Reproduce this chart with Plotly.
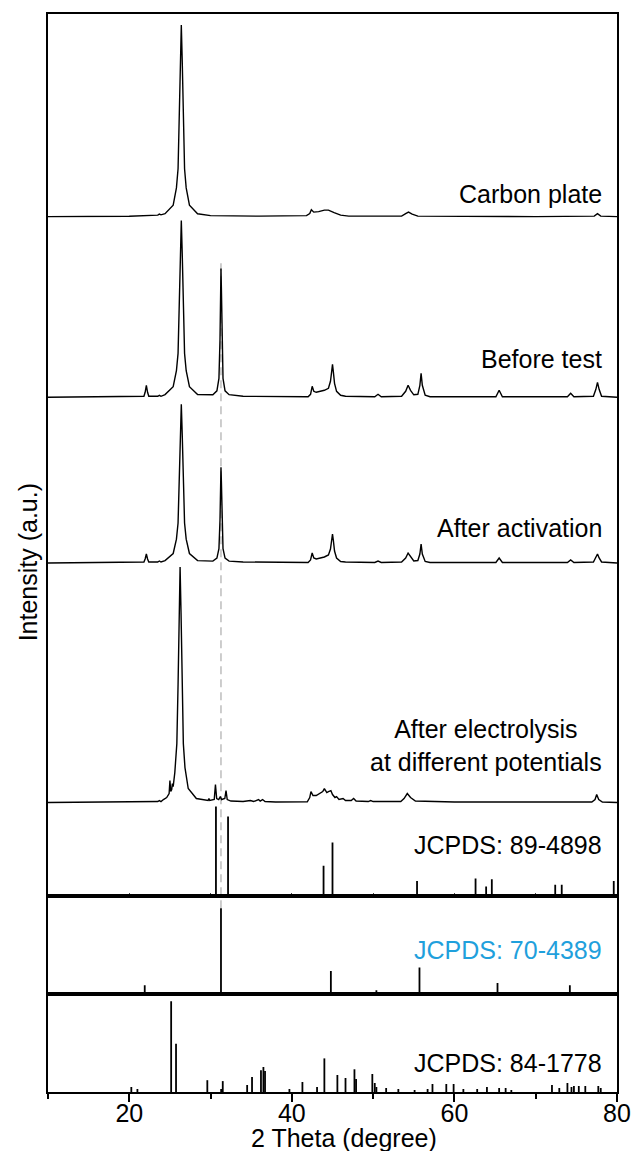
import plotly.graph_objects as go
from plotly.subplots import make_subplots

# ---------------- measured XRD patterns (2theta, intensity a.u.) ----------------
CARBON_PLATE = [
    (10, 0), (20, 0.3), (23.5, 1.5), (23.7, 2.5), (23.9, 1.8), (24.4, 2.9), (25.4, 11.5),
    (25.8, 28.8), (26.0, 48), (26.15, 96), (26.28, 154), (26.4, 192), (26.52, 154),
    (26.65, 96), (26.8, 48), (27.0, 28.8), (27.4, 11.5), (28.4, 2.9), (30, 1),
    (36, 0.5), (41.8, 1), (42.2, 3), (42.4, 7), (42.7, 4.5), (43.3, 5), (44.0, 6.5),
    (44.5, 6.5), (45.2, 4), (46.0, 1.5), (47, 0.5), (53.5, 0.5), (54.0, 3), (54.35, 4.5),
    (54.8, 2.5), (55.5, 0.5), (70, 0), (77.2, 0.5), (77.6, 3), (78.0, 0.5), (80, 0),
]

BEFORE_TEST = [
    (10, 0), (20, 0.5), (21.8, 1), (21.95, 5), (22.1, 12), (22.25, 5), (22.4, 1),
    (23.5, 1), (23.7, 2), (23.9, 1), (24.4, 2.7), (25.4, 10.6), (25.8, 26.6), (26.0, 44),
    (26.15, 88.5), (26.28, 142), (26.4, 177), (26.52, 142), (26.65, 88.5), (26.8, 44),
    (27.0, 26.6), (27.4, 10.6), (28.4, 2.7), (30.28, 2.6), (30.78, 6.5), (31.03, 19),
    (31.16, 58), (31.23, 110), (31.28, 129), (31.33, 110), (31.40, 58), (31.53, 19),
    (31.78, 6.5), (32.28, 2.6), (34, 1), (40, 0.5), (42.0, 0.5), (42.3, 3), (42.5, 11),
    (42.7, 6), (43.0, 5), (43.5, 6), (44.0, 7), (44.5, 9), (44.75, 16), (44.9, 26),
    (45.0, 33), (45.1, 26), (45.25, 14), (45.5, 6), (46.0, 2), (46.6, 1), (50.2, 0.5),
    (50.6, 3), (51.0, 0.5), (53.5, 1), (54.0, 6), (54.3, 12), (54.6, 7), (55.0, 2.5),
    (55.5, 3), (55.75, 12), (55.9, 24), (56.05, 12), (56.4, 2), (57.0, 0.5), (65.1, 0.5),
    (65.5, 7), (65.9, 0.5), (73.9, 0.5), (74.3, 4), (74.7, 0.5), (77.1, 1), (77.4, 8),
    (77.6, 15), (77.8, 8), (78.1, 1), (80, 0),
]

AFTER_ACTIVATION = [
    (10, 0), (20, 0.5), (21.8, 1), (21.95, 4), (22.1, 9), (22.25, 4), (22.4, 1),
    (23.5, 1), (23.7, 2), (23.9, 1), (24.4, 2.4), (25.4, 9.5), (25.8, 23.9), (26.0, 40),
    (26.15, 79.5), (26.28, 127), (26.4, 159), (26.52, 127), (26.65, 79.5), (26.8, 40),
    (27.0, 23.9), (27.4, 9.5), (28.4, 2.4), (30.28, 1.9), (30.78, 4.8), (31.03, 14.4),
    (31.16, 43), (31.23, 82), (31.28, 96), (31.33, 82), (31.40, 43), (31.53, 14.4),
    (31.78, 4.8), (32.28, 1.9), (34, 1), (40, 0.5), (42.0, 0.5), (42.3, 3), (42.5, 10),
    (42.7, 5), (43.0, 4), (43.5, 5), (44.0, 6), (44.5, 8), (44.75, 14), (44.9, 23),
    (45.0, 29), (45.1, 23), (45.25, 12), (45.5, 5), (46.0, 1.5), (46.6, 1), (50.2, 0.5),
    (50.6, 2), (51.0, 0.5), (53.5, 1), (54.0, 5), (54.3, 10), (54.6, 6), (55.0, 2),
    (55.5, 2.5), (55.75, 9), (55.9, 19), (56.05, 9), (56.4, 1.5), (57.0, 0.5), (65.1, 0.5),
    (65.5, 5), (65.9, 0.5), (73.9, 0.5), (74.3, 3), (74.7, 0.5), (77.1, 1), (77.4, 5),
    (77.6, 9), (77.8, 5), (78.1, 1), (80, 0),
]

AFTER_ELECTROLYSIS = [
    (10, 0), (22, 0.5), (23.5, 1), (23.7, 2), (23.9, 1), (24.2, 3), (24.6, 5), (24.9, 9),
    (25.0, 22), (25.1, 11), (25.22, 13), (25.3, 19), (25.4, 16), (25.6, 30), (25.85, 59),
    (26.0, 118), (26.13, 189), (26.25, 236), (26.37, 189), (26.5, 118), (26.65, 59),
    (26.85, 35), (27.25, 14), (28.25, 4), (29.5, 2), (29.7, 2), (29.8, 4), (29.9, 2),
    (30.45, 3), (30.6, 18), (30.75, 4), (31.0, 3), (31.2, 6), (31.35, 3), (31.75, 4),
    (31.9, 12), (32.05, 3), (32.5, 1.5), (34.0, 1), (34.9, 2), (35.3, 1), (35.9, 3),
    (36.1, 1.5), (36.4, 3), (36.7, 1), (38, 0.5), (41.9, 0.8), (42.2, 5), (42.35, 11),
    (42.6, 7), (43.0, 7), (43.5, 9), (43.8, 11), (44.0, 14), (44.3, 10), (44.5, 11),
    (44.8, 12), (45.0, 8), (45.3, 5), (45.5, 6), (45.8, 3), (46.3, 4), (46.6, 2),
    (47.3, 2), (47.6, 4), (47.9, 1.5), (49.4, 1), (49.7, 2), (50, 1), (53.4, 1),
    (53.8, 4), (54.2, 9), (54.6, 5), (55.2, 1.5), (57, 1), (60, 0.5), (76.9, 0.5),
    (77.3, 3), (77.5, 8), (77.75, 3), (78.2, 0.5), (80, 0),
]

# ---------------- reference cards (2theta, relative intensity %) ----------------
JCPDS_89_4898 = [
    (20.0, 1), (30.1, 2), (30.66, 100), (32.15, 89), (40.0, 1), (43.9, 34), (45.0, 60),
    (50.1, 1), (55.4, 17), (60.0, 1), (62.6, 20), (63.9, 11), (64.6, 19), (70.1, 1),
    (72.4, 13), (73.2, 13), (79.6, 17),
]

JCPDS_70_4389 = [
    (18.9, 1.5), (21.9, 10.5), (24.6, 1.5), (31.28, 100), (33.3, 1.5), (35.0, 1.5),
    (36.7, 1.5), (40.2, 1.5), (41.9, 1.5), (44.8, 27), (46.1, 1.5), (49.1, 1.5),
    (50.4, 4.5), (51.8, 1.5), (55.7, 31), (58.0, 1.5), (59.5, 1.5), (61.5, 1.5),
    (63.0, 1.5), (65.3, 13), (67.0, 1.5), (69.0, 1.5), (71.0, 1.5), (72.5, 1.5),
    (74.2, 10.5), (76.0, 1.5), (77.5, 1.5), (79.0, 1.5),
]

JCPDS_84_1778 = [
    (20.25, 5.5), (21.0, 3.3), (25.15, 100), (25.75, 53), (29.6, 13), (31.3, 3.3),
    (31.5, 12), (34.5, 7.7), (35.1, 16.5), (36.2, 24), (36.5, 27.5), (36.7, 23),
    (39.7, 3.3), (41.3, 11), (43.1, 5.5), (44.0, 37), (45.6, 18.7), (46.6, 15.4),
    (47.7, 25), (47.9, 14.3), (49.9, 19.8), (50.2, 9.9), (50.4, 5.5), (51.6, 4.4),
    (53.1, 3.3), (55.1, 2.2), (56.7, 3.3), (57.3, 8.8), (59.0, 8.8), (59.9, 8.8),
    (61.1, 3.3), (62.8, 3.3), (64.0, 5.5), (65.5, 4.4), (66.3, 4.4), (67.0, 2.2),
    (72.0, 7.7), (72.9, 4.4), (73.9, 9.9), (74.4, 5.5), (74.7, 6.6), (75.3, 6.6),
    (76.1, 6.6), (77.7, 6.6), (78.0, 4.4),
]

X_TICKS = [20, 40, 60, 80]

# ---------------- figure geometry ----------------
W, H = 643, 1151
M_L, M_R, M_T, M_B = 48, 15, 12, 59
PLOT_H = H - M_T - M_B
TOP_H, MID_H, BOT_H = 884, 98, 98

# vertical offsets of the stacked patterns in the top panel
OFFSETS = {"carbon": 681, "before": 500, "after": 334, "electro": 94}
CARD1_SCALE = 0.90           # 89-4898 drawn in the top panel
MID_RANGE = 100 * MID_H / 86
BOT_RANGE = 100 * BOT_H / 91

FONT = "Liberation Sans, Arial, Helvetica, sans-serif"
FS = 25
BLUE = "#1FA0DC"


def split(pairs, offset=0.0, scale=1.0):
    xs = [p[0] for p in pairs]
    ys = [p[1] * scale + offset for p in pairs]
    return xs, ys


def sticks(pairs, scale=1.0):
    xs, ys = [], []
    for x, h in pairs:
        xs += [x, x, None]
        ys += [0, h * scale, None]
    return xs, ys


def py(px):
    """paper y from a pixel row"""
    return (H - M_B - px) / PLOT_H


def pxx(px):
    """paper x from a pixel column"""
    return (px - M_L) / (W - M_L - M_R)


fig = make_subplots(rows=3, cols=1, shared_xaxes=True, vertical_spacing=0,
                    row_heights=[TOP_H, MID_H, BOT_H])

line = dict(color="black", width=1.4)
for key, data in [("carbon", CARBON_PLATE), ("before", BEFORE_TEST),
                  ("after", AFTER_ACTIVATION), ("electro", AFTER_ELECTROLYSIS)]:
    x, y = split(data, offset=OFFSETS[key])
    fig.add_trace(go.Scatter(x=x, y=y, mode="lines", line=line, hoverinfo="skip"),
                  row=1, col=1)

stick_line = dict(color="black", width=1.8)
x, y = sticks(JCPDS_89_4898, CARD1_SCALE)
fig.add_trace(go.Scatter(x=x, y=y, mode="lines", line=stick_line), row=1, col=1)
x, y = sticks(JCPDS_70_4389)
fig.add_trace(go.Scatter(x=x, y=y, mode="lines", line=stick_line), row=2, col=1)
x, y = sticks(JCPDS_84_1778)
fig.add_trace(go.Scatter(x=x, y=y, mode="lines", line=stick_line), row=3, col=1)

# dashed guide through the 31.3 degree reflection
fig.add_shape(type="line", xref="x", yref="paper", x0=31.28, x1=31.28,
              y0=py(908), y1=py(258), layer="below",
              line=dict(color="#BDBDBD", width=1.5, dash="8px,5px"))

axis_common = dict(range=[10, 80], showline=True, mirror=True, linecolor="black",
                   linewidth=2, showgrid=False, zeroline=False)
fig.update_xaxes(**axis_common)
fig.update_xaxes(ticks="inside", ticklen=3, tickwidth=1, tick0=0, dtick=10,
                 showticklabels=False, row=1, col=1)
fig.update_xaxes(ticks="", showticklabels=False, row=2, col=1)
fig.update_xaxes(ticks="outside", ticklen=8, tickwidth=1.6, tickcolor="black",
                 tickvals=X_TICKS, ticktext=[str(v) for v in X_TICKS],
                 ticklabelstandoff=-10,
                 showticklabels=True, tickfont=dict(family=FONT, size=FS, color="black"),
                 minor=dict(tickvals=[10, 30, 50, 70], ticks="outside", ticklen=5,
                            tickwidth=1.6, tickcolor="black"),
                 row=3, col=1)

yaxis_common = dict(showline=True, mirror=True, linecolor="black", linewidth=2,
                    showgrid=False, zeroline=False, ticks="", showticklabels=False)
fig.update_yaxes(**yaxis_common)
fig.update_yaxes(range=[0, TOP_H], row=1, col=1)
fig.update_yaxes(range=[0, MID_RANGE], row=2, col=1)
fig.update_yaxes(range=[0, BOT_RANGE], row=3, col=1)

txt = dict(family=FONT, size=FS, color="black")
labels = [
    ("Carbon plate", 192, "black"),
    ("Before test", 358, "black"),
    ("After activation", 527, "black"),
    ("After electrolysis<br>at different potentials", 745, "black"),
    ("JCPDS: 89-4898", 845, "black"),
    ("JCPDS: 70-4389", 950, BLUE),
    ("JCPDS: 84-1778", 1063, "black"),
]
for text, ypx, color in labels:
    fig.add_annotation(text=text, xref="paper", yref="paper", x=pxx(615), y=py(ypx),
                       xanchor="right", yanchor="middle", align="center",
                       showarrow=False, font=dict(family=FONT, size=FS, color=color))

fig.add_annotation(text="2 Theta (degree)", xref="paper", yref="paper",
                   x=pxx(350), y=py(1138), xanchor="center", yanchor="middle",
                   showarrow=False, font=txt)
fig.add_annotation(text="Intensity (a.u.)", xref="paper", yref="paper",
                   x=pxx(28), y=py(561), xanchor="center", yanchor="middle",
                   textangle=-90, showarrow=False, font=txt)

fig.update_layout(width=W, height=H, showlegend=False,
                  margin=dict(l=M_L, r=M_R, t=M_T, b=M_B),
                  paper_bgcolor="white", plot_bgcolor="white")

fig.write_html("out.html")
